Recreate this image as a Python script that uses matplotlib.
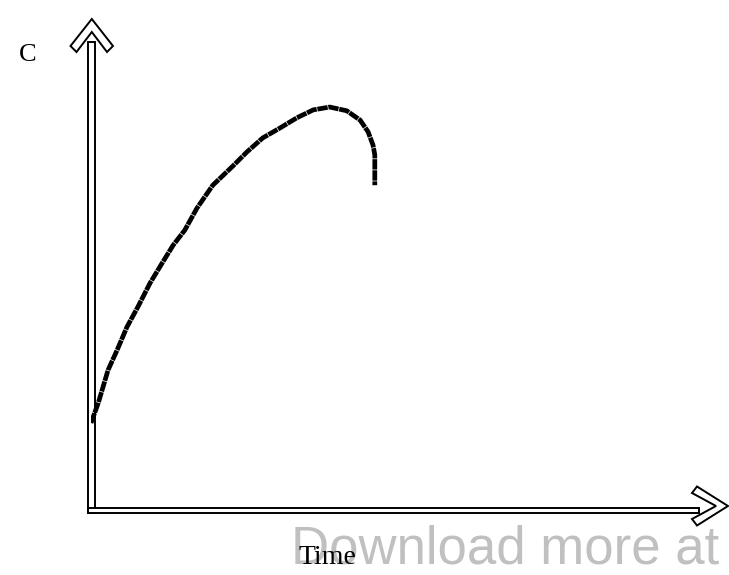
import matplotlib
matplotlib.use("Agg")
import matplotlib.pyplot as plt
from matplotlib.patches import Polygon, Rectangle

# curve (time, C) in arbitrary units, axes span 0..10
time = [0.00, 0.12, 0.28, 0.43, 0.59, 0.77, 0.97, 1.17, 1.35, 1.54,
        1.74, 2.00, 2.33, 2.56, 2.82, 3.10, 3.38, 3.65, 3.92, 4.20,
        4.42, 4.55, 4.63, 4.66, 4.66]
conc = [1.86, 2.29, 2.99, 3.42, 3.91, 4.34, 4.85, 5.28, 5.66, 5.98,
        6.45, 6.94, 7.35, 7.65, 7.95, 8.16, 8.38, 8.55, 8.61, 8.53,
        8.33, 8.08, 7.80, 7.59, 6.94]

W, H = 729, 575
fig = plt.figure(figsize=(W / 100, H / 100), dpi=100)

# overlay in pixel units for the hand-drawn style axis arrows and labels
deco = fig.add_axes([0, 0, 1, 1])
deco.set_xlim(0, W)
deco.set_ylim(H, 0)
deco.axis("off")

line_kw = dict(facecolor="white", edgecolor="black", linewidth=1.4, zorder=3)
# vertical arrow (C axis)
deco.add_patch(Rectangle((88.5, 42), 6.5, 471, **line_kw))
deco.add_patch(Polygon([(91.8, 19), (113, 46), (107, 52), (91.8, 32),
                        (76.5, 52), (70.5, 46)], closed=True, **line_kw))
# horizontal arrow (time axis)
deco.add_patch(Rectangle((88.5, 507.5), 611, 5.5, **line_kw))
deco.add_patch(Polygon([(728, 506), (697, 525.5), (692, 519), (716, 506),
                        (692, 493), (697, 486.5)], closed=True, **line_kw))

deco.text(28, 55, "C", fontsize=19, family="Liberation Serif",
          ha="center", va="center", zorder=5)
deco.text(505, 549, "Download more at", fontsize=38, family="Liberation Sans",
          color="#c0c0c0", ha="center", va="center", zorder=2)
deco.text(327, 557, "Time", fontsize=20, family="Liberation Serif",
          ha="center", va="center", zorder=5)

# data axes sitting on the drawn arrows
ax = fig.add_axes([91 / W, (H - 510) / H, (700 - 91) / W, (510 - 42) / H])
ax.patch.set_alpha(0)
ax.set_xlim(0, 10)
ax.set_ylim(0, 10)
ax.axis("off")
ax.plot(time, conc, color="black", linewidth=3.4, dashes=(2.2, 0.15),
        dash_capstyle="butt", solid_joinstyle="round", zorder=4)

fig.savefig("out.png", dpi=100)
